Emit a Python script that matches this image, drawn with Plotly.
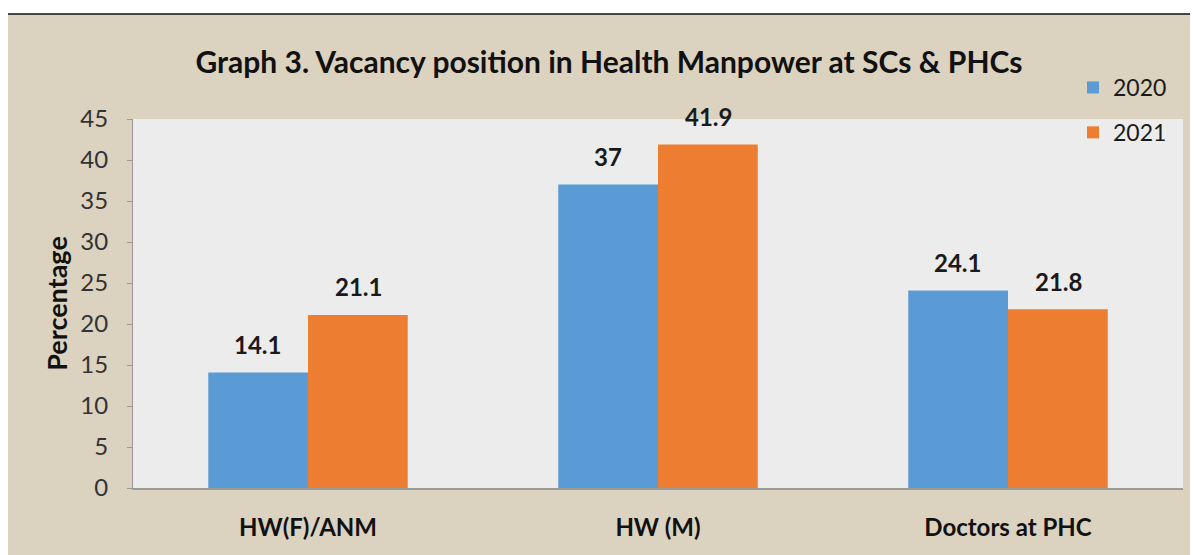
import plotly.graph_objects as go

categories = ["HW(F)/ANM", "HW (M)", "Doctors at PHC"]
years = ["2020", "2021"]
values_2020 = [14.1, 37, 24.1]
values_2021 = [21.1, 41.9, 21.8]
colors = ["#5b9bd5", "#ed7d31"]
title_text = "Graph 3. Vacancy position in Health Manpower at SCs & PHCs"

FONT = "Lato"
OFF = 8  # page body margin
W, H = 1198 - OFF, 555 - OFF
# plot area in reference pixel coords
PL, PR, PT, PB = 133, 1183, 119, 488
L, R, T, B = PL - OFF, W - (PR - OFF), PT - OFF, H - (PB - OFF)
pw, ph = PR - PL, PB - PT

def px_x(p):
    return (p - PL) / pw

def px_y(q):
    return (PB - q) / ph

fig = go.Figure()
for i, (yr, vals) in enumerate(zip(years, [values_2020, values_2021])):
    fig.add_trace(go.Bar(
        name=yr, x=categories, y=vals, marker_color=colors[i],
        marker_line_width=0, legendgroup=yr,
    ))

# data labels
offsets = [-0.143, 0.143]
for i, vals in enumerate([values_2020, values_2021]):
    for j, v in enumerate(vals):
        fig.add_annotation(
            x=j + offsets[i], y=v, xref="x", yref="y",
            text=f"<b>{v:g}</b>", showarrow=False, yanchor="middle",
            yshift=28, font=dict(family=FONT, size=24, color="#1a1a1a"),
        )

shapes = [
    dict(type="rect", xref="paper", yref="paper", layer="below",
         x0=px_x(7), x1=px_x(1205), y0=px_y(560), y1=px_y(14),
         fillcolor="#dbd2bf", line=dict(color="#111111", width=1.5)),
    dict(type="rect", xref="paper", yref="paper", layer="below",
         x0=0, x1=1, y0=0, y1=1, fillcolor="#ececec", line=dict(width=0)),
]

fig.update_layout(
    width=W, height=H,
    margin=dict(l=L, r=R, t=T, b=B),
    paper_bgcolor="white", plot_bgcolor="#ececec",
    barmode="group", bargap=0.43, bargroupgap=0,
    shapes=shapes,
    title=dict(text=f"<b>{title_text}</b>", x=(609 - OFF) / W, xanchor="center",
               y=1 - (62 - OFF) / H, yanchor="middle",
               font=dict(family=FONT, size=30, color="#111111")),
    legend=dict(x=px_x(1073), y=px_y(66), xanchor="left", yanchor="top",
                bgcolor="rgba(0,0,0,0)", tracegroupgap=12,
                font=dict(family=FONT, size=23, color="#1a1a1a"),
                itemwidth=30),
    font=dict(family=FONT),
)
fig.update_yaxes(range=[0, 45], dtick=5, showgrid=False, zeroline=False,
                 showline=True, linecolor="#9a9a9a", linewidth=1,
                 ticks="outside", ticklen=5, tickcolor="#9a9a9a",
                 ticklabelstandoff=14,
                 tickfont=dict(family=FONT, size=24, color="#333333"),
                 title=dict(text="<b>Percentage</b>", standoff=4,
                            font=dict(family=FONT, size=27, color="#111111")))
fig.update_xaxes(showgrid=False, showline=True, linecolor="#9a9a9a",
                 linewidth=1.5, ticks="", ticklabelstandoff=17,
                 tickfont=dict(family=FONT, size=24, color="#111111"),
                 tickvals=categories,
                 ticktext=[f"<b>{c}</b>" for c in categories])

fig.write_html("out.html")
